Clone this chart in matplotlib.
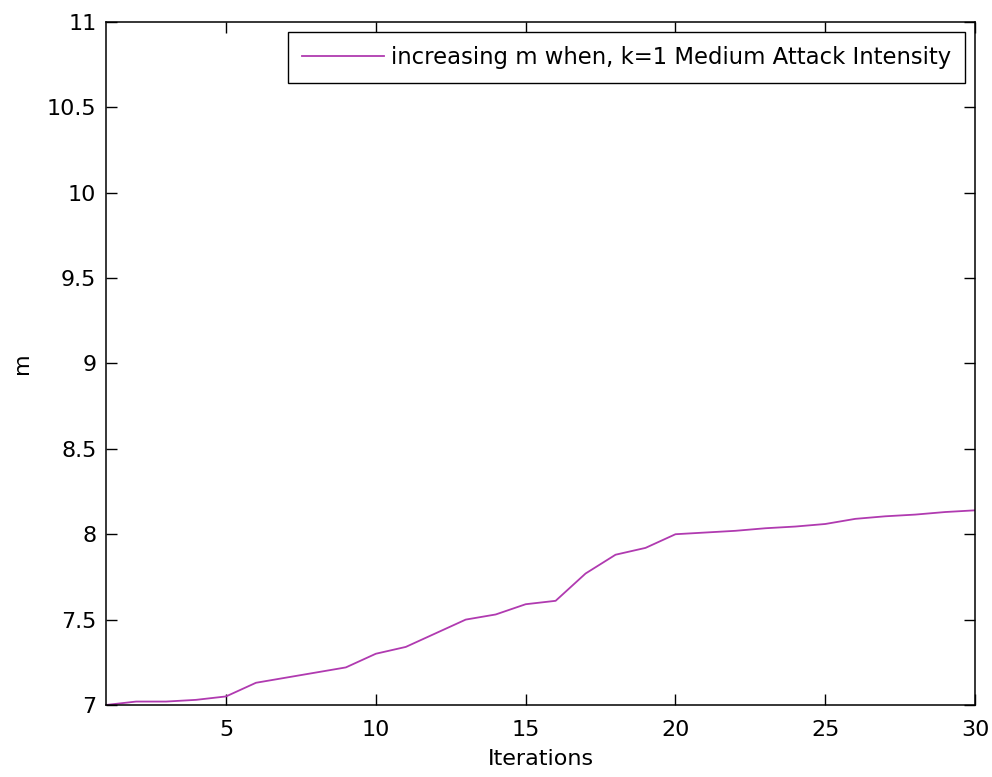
import matplotlib.pyplot as plt
from matplotlib.ticker import FormatStrFormatter

# --- datos ---
iterations = list(range(1, 31))
m_values = [7.00, 7.02, 7.02, 7.03, 7.05, 7.13, 7.16, 7.19, 7.22, 7.30,
            7.34, 7.42, 7.50, 7.53, 7.59, 7.61, 7.77, 7.88, 7.92, 8.00,
            8.01, 8.02, 8.035, 8.045, 8.06, 8.09, 8.105, 8.115, 8.13, 8.14]
x_ticks = [5, 10, 15, 20, 25, 30]
y_ticks = [7, 7.5, 8, 8.5, 9, 9.5, 10, 10.5, 11]
legend_label = 'increasing m when, k=1 Medium Attack Intensity'

plt.rcParams['font.family'] = ['DejaVu Sans']

fig = plt.figure(figsize=(9.92, 7.77), dpi=100)
ax = fig.add_axes([0.107, 0.0927, 0.876, 0.879])

ax.plot(iterations, m_values, color='#b03ab0', linewidth=1.3, label=legend_label)

ax.set_xlim(1, 30)
ax.set_ylim(7, 11)
ax.set_xticks(x_ticks)
ax.set_yticks(y_ticks)
ax.yaxis.set_major_formatter(FormatStrFormatter('%g'))
ax.tick_params(direction='in', length=8, width=1, top=True, right=True,
               labelsize=16)
ax.tick_params(axis='x', pad=11)
ax.tick_params(axis='y', pad=7)
for s in ax.spines.values():
    s.set_linewidth(1.1)

ax.set_xlabel('Iterations', fontsize=16, labelpad=6)
ax.set_ylabel('m', fontsize=16, labelpad=11)

leg = ax.legend(loc='upper right', fontsize=16.4, fancybox=False, framealpha=1,
                edgecolor='black', handlelength=3.6, handletextpad=0.3,
                borderaxespad=0.45, borderpad=0.6)
leg.get_frame().set_linewidth(1.0)

fig.savefig('out.png', dpi=100)
